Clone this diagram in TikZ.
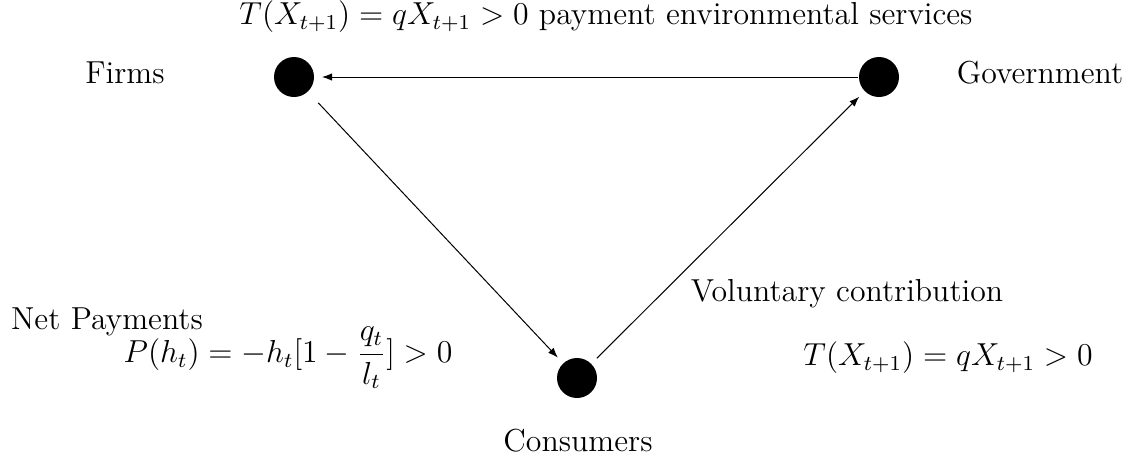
\documentclass[tikz,border=0pt]{standalone}
\usetikzlibrary{arrows.meta}
\begin{document}
\begin{tikzpicture}[x=0.3775pt,y=-0.3775pt,
  agent/.style={circle,fill=black,minimum size=15.1pt,inner sep=0pt},
  lbl/.style={inner sep=0pt,font=\fontsize{12}{14}\selectfont},
  flow/.style={-{Latex[length=3.8pt,width=2.8pt]},line width=0.38pt}]
\useasboundingbox (0,0) rectangle (1130,464);
\node[agent] (f) at (294,77) {};
\node[agent] (g) at (879,77) {};
\node[agent] (c) at (577,378) {};
\node[lbl] (tf) at (125,73) {Firms};
\node[lbl] (tg) at (1040,73) {Government};
\node[lbl] (tc) at (578,441) {Consumers};
\node[lbl] (ttop) at (606,17) {$T(X_{t+1}) = qX_{t+1} > 0$ payment environmental services};
\node[lbl] (tnet) at (107,322) {Net Payments};
\node[lbl] (tp) at (288,358) {$P(h_t) = -h_t[1-\displaystyle\frac{q_t}{l_t}] > 0$};
\node[lbl] (tvol) at (847,294) {Voluntary contribution};
\node[lbl] (tt) at (948,358) {$T(X_{t+1}) = qX_{t+1} > 0$};
\draw[flow,shorten >=2.8pt] (g) -- (f);
\draw[flow,shorten <=5.6pt,shorten >=2.8pt] (f) -- (c);
\draw[flow,shorten <=2.8pt,shorten >=2.8pt] (c) -- (g);
\end{tikzpicture}
\end{document}
